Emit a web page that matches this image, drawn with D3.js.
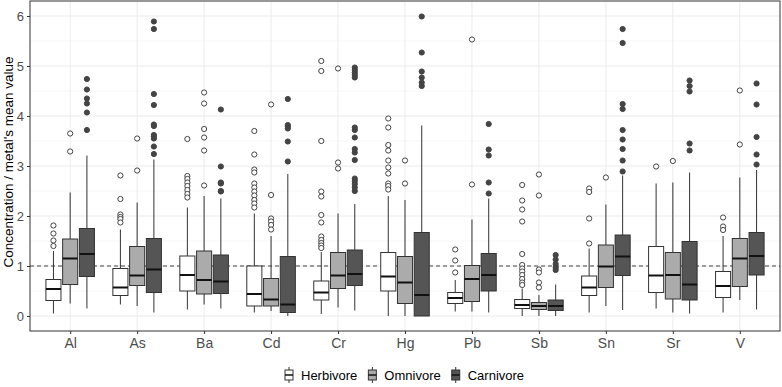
<!DOCTYPE html>
<html>
<head>
<meta charset="utf-8">
<script src="https://cdn.jsdelivr.net/npm/d3@7"></script>
<style>
  body { margin: 0; background: #fff; }
  text { font-family: "Liberation Sans", Arial, sans-serif; }
</style>
</head>
<body>
<script>
// categories and groups
const metals = ['Al','As','Ba','Cd','Cr','Hg','Pb','Sb','Sn','Sr','V'];
const diets = ['Herbivore','Omnivore','Carnivore'];
const yTicks = [0,1,2,3,4,5,6];

// box stats per metal: [lower whisker, Q1, median, Q3, upper whisker]
const herbivoreStats = [
  [0.05,0.31,0.54,0.73,1.30],[0.23,0.41,0.57,0.95,1.73],[0.13,0.50,0.82,1.20,2.17],
  [0.07,0.20,0.44,1.00,2.05],[0.04,0.32,0.47,0.70,1.28],[0.00,0.50,0.79,1.27,2.40],
  [0.09,0.25,0.36,0.47,0.72],[0.00,0.15,0.22,0.33,0.55],[0.07,0.41,0.57,0.80,1.35],
  [0.15,0.47,0.81,1.39,2.65],[0.07,0.37,0.60,0.89,1.60]
];
const omnivoreStats = [
  [0.25,0.63,1.15,1.54,2.47],[0.20,0.61,0.81,1.39,2.27],[0.23,0.44,0.72,1.30,2.40],
  [0.10,0.20,0.33,0.75,1.60],[0.17,0.55,0.81,1.27,2.05],[0.00,0.25,0.67,1.19,2.32],
  [0.09,0.29,0.74,1.01,1.93],[0.00,0.13,0.20,0.27,0.42],[0.20,0.57,0.99,1.42,2.23],
  [0.07,0.34,0.82,1.27,2.67],[0.32,0.59,1.15,1.55,2.77]
];
const carnivoreStats = [
  [0.15,0.79,1.24,1.75,3.21],[0.07,0.47,0.93,1.55,3.13],[0.15,0.45,0.69,1.22,2.35],
  [0.00,0.07,0.23,1.19,2.84],[0.11,0.61,0.84,1.32,2.24],[0.00,0.00,0.42,1.67,3.81],
  [0.07,0.50,0.82,1.25,2.35],[0.00,0.11,0.20,0.32,0.63],[0.12,0.81,1.19,1.62,2.81],
  [0.05,0.32,0.63,1.49,2.87],[0.13,0.82,1.20,1.67,2.92]
];

// outliers per metal
const herbivoreOutliers = [
  [1.81,1.65,1.51,1.40],
  [2.81,2.34,2.03,1.98,1.94,1.87],
  [3.54,2.80,2.74,2.67,2.60,2.52,2.44,2.37],
  [3.70,3.23,2.93,2.87,2.65,2.57,2.49,2.41,2.32,2.25,2.17],
  [5.10,4.90,3.50,2.49,2.39,2.02,1.87,1.59,1.52,1.46,1.41,1.36],
  [3.95,3.77,3.42,3.31,3.11,2.97,2.85,2.65,2.60,2.53],
  [1.33,1.11,0.87],
  [2.62,2.31,2.13,1.89,1.24,1.02,0.95,0.89,0.82,0.74,0.67,0.62],
  [2.55,2.48,1.95,1.45],
  [2.99],
  [1.97,1.79,1.72]
];
const omnivoreOutliers = [
  [3.65,3.29],
  [3.55,2.91],
  [4.47,4.25,3.74,3.57,3.31,2.61],
  [4.23,2.42,1.95,1.89,1.82,1.73],
  [4.95,3.07,2.95],
  [3.11,2.65],
  [5.53,2.63],
  [2.83,2.41,0.93,0.87,0.67,0.57],
  [2.77],
  [3.10],
  [4.51,3.43]
];
const carnivoreOutliers = [
  [4.74,4.53,4.35,4.25,4.07,3.72],
  [5.89,5.74,4.44,4.22,3.83,3.80,3.62,3.59,3.55,3.39,3.24],
  [4.13,2.99,2.67,2.65,2.50,2.49],
  [4.34,3.82,3.79,3.75,3.49,3.09],
  [4.97,4.92,4.87,4.82,4.77,3.77,3.72,3.57,3.34,3.27,3.12,2.75,2.70,2.64,2.57,2.50],
  [5.99,5.27,4.89,4.77,4.67,4.60],
  [3.84,3.33,3.21,2.67,2.45],
  [1.22,1.13,1.04,0.97,0.92],
  [5.74,5.46,4.24,4.14,3.72,3.53,3.34,3.11,2.89],
  [4.71,4.60,4.49,3.45,3.31],
  [4.65,4.23,3.58,3.23,3.03]
];

const stats = {Herbivore: herbivoreStats, Omnivore: omnivoreStats, Carnivore: carnivoreStats};
const outliers = {Herbivore: herbivoreOutliers, Omnivore: omnivoreOutliers, Carnivore: carnivoreOutliers};

const width = 782, height = 387;
const margin = {top: 1, right: 2, bottom: 56, left: 30};
const innerW = width - margin.left - margin.right;
const innerH = height - margin.top - margin.bottom;

const svg = d3.select('body').append('svg').attr('width', width).attr('height', height);
const g = svg.append('g').attr('transform', `translate(${margin.left},${margin.top})`);

const x = d3.scalePoint().domain(metals).range([0, innerW]).padding(0.6);
const step = x.step();
const xInner = d3.scaleBand().domain(diets).range([-0.375 * step, 0.375 * step])
  .paddingInner(0.1).paddingOuter(0.05);
const y = d3.scaleLinear().domain([-0.3, 6.3]).range([innerH, 0]);

const fill = d3.scaleOrdinal().domain(diets).range(['#ffffff', '#ababab', '#555555']);
const outFill = d3.scaleOrdinal().domain(diets).range(['#ffffff', '#ffffff', '#444444']);

// grid
const minor = d3.range(0.5, 6.5, 1);
g.selectAll('.minor').data(minor).enter().append('line')
  .attr('x1', 0).attr('x2', innerW).attr('y1', d => y(d)).attr('y2', d => y(d))
  .attr('stroke', '#f2f2f2').attr('stroke-width', 0.6);
g.selectAll('.hgrid').data(yTicks).enter().append('line')
  .attr('x1', 0).attr('x2', innerW).attr('y1', d => y(d)).attr('y2', d => y(d))
  .attr('stroke', '#ebebeb').attr('stroke-width', 1);
g.selectAll('.vgrid').data(metals).enter().append('line')
  .attr('x1', d => x(d)).attr('x2', d => x(d)).attr('y1', 0).attr('y2', innerH)
  .attr('stroke', '#ebebeb').attr('stroke-width', 1);

// reference line at 1
g.append('line').attr('x1', 0).attr('x2', innerW).attr('y1', y(1)).attr('y2', y(1))
  .attr('stroke', '#444').attr('stroke-width', 1).attr('stroke-dasharray', '4,3');

// boxes
const rows = [];
metals.forEach((m, i) => diets.forEach(d => {
  const s = stats[d][i];
  rows.push({metal: m, diet: d, lo: s[0], q1: s[1], med: s[2], q3: s[3], hi: s[4], out: outliers[d][i]});
}));

const bw = xInner.bandwidth();
const box = g.selectAll('.box').data(rows).enter().append('g')
  .attr('transform', d => `translate(${x(d.metal) + xInner(d.diet) + bw / 2},0)`);

box.append('line').attr('x1', 0).attr('x2', 0)
  .attr('y1', d => y(d.hi)).attr('y2', d => y(d.q3)).attr('stroke', '#333').attr('stroke-width', 1);
box.append('line').attr('x1', 0).attr('x2', 0)
  .attr('y1', d => y(d.q1)).attr('y2', d => y(d.lo)).attr('stroke', '#333').attr('stroke-width', 1);
box.append('rect').attr('x', -bw / 2).attr('width', bw)
  .attr('y', d => y(d.q3)).attr('height', d => Math.max(0.5, y(d.q1) - y(d.q3)))
  .attr('fill', d => fill(d.diet)).attr('stroke', '#333').attr('stroke-width', 1);
box.append('line').attr('x1', -bw / 2).attr('x2', bw / 2)
  .attr('y1', d => y(d.med)).attr('y2', d => y(d.med)).attr('stroke', '#111').attr('stroke-width', 2);

box.selectAll('circle').data(d => d.out.map(v => ({v: v, diet: d.diet}))).enter().append('circle')
  .attr('cx', 0).attr('cy', d => y(d.v)).attr('r', 2.6)
  .attr('fill', d => outFill(d.diet)).attr('stroke', '#444').attr('stroke-width', 1);

// panel border
g.append('rect').attr('width', innerW).attr('height', innerH)
  .attr('fill', 'none').attr('stroke', '#333').attr('stroke-width', 1);

// axes
const yAxis = d3.axisLeft(y).tickValues(yTicks).tickFormat(d3.format('d')).tickSize(3).tickPadding(3);
const yAxisG = g.append('g').call(yAxis);
yAxisG.select('.domain').remove();
yAxisG.selectAll('.tick line').attr('stroke', '#333');
yAxisG.selectAll('.tick text').attr('fill', '#4d4d4d').attr('font-size', '13px')
  .style('font-family', '"Liberation Sans", Arial, sans-serif');

const xAxis = d3.axisBottom(x).tickSize(3).tickPadding(4);
const xAxisG = g.append('g').attr('transform', `translate(0,${innerH})`).call(xAxis);
xAxisG.select('.domain').remove();
xAxisG.selectAll('.tick line').attr('stroke', '#333');
xAxisG.selectAll('.tick text').attr('fill', '#4d4d4d').attr('font-size', '14px')
  .style('font-family', '"Liberation Sans", Arial, sans-serif');

// y title
svg.append('text').text("Concentration / metal's mean value")
  .attr('transform', `translate(13,${margin.top + y(3) - 4}) rotate(-90)`)
  .attr('text-anchor', 'middle').attr('font-size', '13.5px').attr('fill', '#000');

// legend
const legend = svg.append('g').attr('transform', `translate(0,375)`);
let lx = 284;
diets.forEach(d => {
  const k = legend.append('g').attr('transform', `translate(${lx},0)`);
  k.append('line').attr('x1', 5).attr('x2', 5).attr('y1', -8).attr('y2', 8).attr('stroke', '#333');
  k.append('rect').attr('x', 1).attr('y', -5).attr('width', 8).attr('height', 10)
    .attr('fill', fill(d)).attr('stroke', '#333').attr('stroke-width', 1);
  k.append('line').attr('x1', 1).attr('x2', 9).attr('y1', 0).attr('y2', 0).attr('stroke', '#111').attr('stroke-width', 1.5);
  const t = k.append('text').text(d).attr('x', 17).attr('y', 5).attr('font-size', '13px').attr('fill', '#000');
  lx += 17 + t.node().getComputedTextLength() + 10;
});
</script>
</body>
</html>
